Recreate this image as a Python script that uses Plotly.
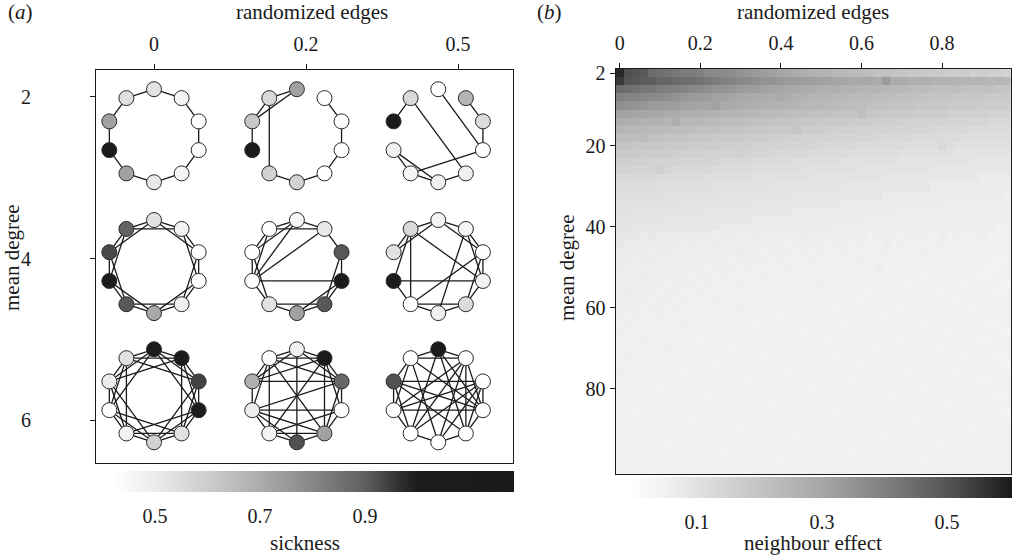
import math
import plotly.graph_objects as go

FONT = "Liberation Serif"
INK = "#1a1a1a"

# ---------------- Panel (a): small-world networks ----------------
RAND_TICKS_A = ["0", "0.2", "0.5"]
DEG_TICKS_A = ["2", "4", "6"]

# node index k: 0 = top, then clockwise
SICK_D2_R0 = [0.53, 0.46, 0.42, 0.42, 0.46, 0.51, 0.73, 1.05, 0.73, 0.54]
EDGES_D2_R0 = [(0, 1), (1, 2), (2, 3), (3, 4), (4, 5), (5, 6), (6, 7), (7, 8), (8, 9), (9, 0)]

SICK_D2_R02 = [0.73, 0.42, 0.42, 0.42, 0.42, 0.585, 0.585, 1.05, 0.615, 0.56]
EDGES_D2_R02 = [(7, 8), (8, 9), (8, 0), (9, 0), (9, 6), (6, 5), (5, 4), (4, 3), (3, 2), (2, 1)]

SICK_D2_R05 = [0.42, 0.67, 0.55, 0.42, 0.48, 0.48, 0.46, 0.48, 1.05, 0.56]
EDGES_D2_R05 = [(8, 9), (9, 4), (0, 3), (1, 2), (2, 3), (6, 3), (7, 6), (7, 5), (6, 5), (5, 4)]

SICK_D4_R0 = [0.53, 0.47, 0.42, 0.42, 0.48, 0.71, 0.91, 1.05, 0.93, 0.89]
EDGES_D4_R0 = [(0, 1), (1, 2), (2, 3), (3, 4), (4, 5), (5, 6), (6, 7), (7, 8), (8, 9), (9, 0),
               (0, 2), (1, 3), (2, 4), (3, 5), (4, 6), (5, 7), (6, 8), (7, 9), (8, 0), (9, 1)]

SICK_D4_R02 = [0.45, 0.51, 0.91, 1.05, 0.91, 0.73, 0.53, 0.42, 0.42, 0.42]
EDGES_D4_R02 = [(0, 1), (1, 2), (2, 3), (3, 4), (4, 5), (5, 6), (6, 7), (7, 8), (8, 9), (9, 0),
                (9, 1), (8, 0), (2, 4), (3, 5), (4, 6), (7, 9), (7, 0), (7, 1), (7, 3), (6, 8)]

SICK_D4_R05 = [0.46, 0.46, 0.42, 0.47, 0.55, 0.48, 0.42, 1.05, 0.53, 0.56]
EDGES_D4_R05 = [(0, 1), (1, 2), (2, 3), (3, 4), (4, 5), (5, 6), (8, 9), (9, 0), (0, 2), (1, 3),
                (2, 4), (4, 6), (8, 0), (9, 6), (9, 3), (7, 9), (7, 6), (2, 6), (1, 5), (3, 7)]

SICK_D6_R0 = [1.05, 1.03, 0.94, 1.03, 0.53, 0.585, 0.47, 0.42, 0.49, 0.53]
EDGES_D6_R0 = [(0, 1), (1, 2), (2, 3), (3, 4), (4, 5), (5, 6), (6, 7), (7, 8), (8, 9), (9, 0),
               (0, 2), (1, 3), (2, 4), (3, 5), (4, 6), (5, 7), (6, 8), (7, 9), (8, 0), (9, 1),
               (0, 3), (1, 4), (2, 5), (3, 6), (4, 7), (5, 8), (6, 9), (7, 0), (8, 1), (9, 2)]

SICK_D6_R02 = [0.48, 1.05, 0.88, 0.42, 0.73, 0.92, 0.47, 0.49, 0.69, 0.42]
EDGES_D6_R02 = [(0, 1), (1, 2), (2, 3), (3, 4), (4, 5), (5, 6), (6, 7), (7, 8), (8, 9), (9, 0),
                (0, 2), (1, 3), (2, 4), (3, 7), (4, 6), (5, 7), (6, 1), (7, 9), (8, 0), (9, 1),
                (0, 5), (1, 4), (2, 8), (3, 6), (4, 7), (9, 4), (6, 9), (7, 2), (8, 1), (9, 2)]

SICK_D6_R05 = [1.05, 0.42, 0.42, 0.42, 0.42, 0.42, 0.42, 0.42, 0.92, 0.42]
EDGES_D6_R05 = [(0, 1), (0, 9), (9, 1), (8, 2), (7, 3), (1, 4), (8, 7), (2, 3), (3, 4), (4, 5),
                (5, 6), (6, 7), (8, 9), (0, 4), (0, 6), (9, 3), (9, 5), (8, 3), (8, 4), (7, 2),
                (7, 1), (6, 1), (6, 2), (5, 1), (5, 2), (7, 9), (4, 2), (3, 1), (6, 8), (0, 3)]

PANELS = [
    (0, 0, SICK_D2_R0, EDGES_D2_R0), (0, 1, SICK_D2_R02, EDGES_D2_R02), (0, 2, SICK_D2_R05, EDGES_D2_R05),
    (1, 0, SICK_D4_R0, EDGES_D4_R0), (1, 1, SICK_D4_R02, EDGES_D4_R02), (1, 2, SICK_D4_R05, EDGES_D4_R05),
    (2, 0, SICK_D6_R0, EDGES_D6_R0), (2, 1, SICK_D6_R02, EDGES_D6_R02), (2, 2, SICK_D6_R05, EDGES_D6_R05),
]

SICK_TICKS = [0.5, 0.7, 0.9]
SICK_TICK_LABELS = ["0.5", "0.7", "0.9"]

# ---------------- Panel (b): neighbour effect heat map ----------------
RAND_B = [0.00, 0.02, 0.04, 0.06, 0.08, 0.10, 0.12, 0.14, 0.16, 0.18,
          0.20, 0.22, 0.24, 0.26, 0.28, 0.30, 0.32, 0.34, 0.36, 0.38,
          0.40, 0.42, 0.44, 0.46, 0.48, 0.50, 0.52, 0.54, 0.56, 0.58,
          0.60, 0.62, 0.64, 0.66, 0.68, 0.70, 0.72, 0.74, 0.76, 0.78,
          0.80, 0.82, 0.84, 0.86, 0.88, 0.90, 0.92, 0.94, 0.96]
DEG_B = [2, 4, 6, 8, 10, 12, 14, 16, 18, 20, 22, 24, 26, 28, 30, 32, 34, 36, 38, 40,
         42, 44, 46, 48, 50, 52, 54, 56, 58, 60, 62, 64, 66, 68, 70, 72, 74, 76, 78, 80,
         82, 84, 86, 88, 90, 92, 94, 96, 98, 100]
RAND_TICKS_B = [0, 0.2, 0.4, 0.6, 0.8]
RAND_TICK_LABELS_B = ["0", "0.2", "0.4", "0.6", "0.8"]
DEG_TICKS_B = [2, 20, 40, 60, 80]

# neighbour effect, in hundredths (rows = mean degree, columns = randomized edges)
NEIGH_PCT = [
    [58, 51, 50, 49, 45, 44, 43, 42, 41, 41, 40, 38, 37, 37, 36, 35, 34, 33, 32, 31, 30, 29, 28, 27, 26, 26, 25, 24, 24, 23, 23, 22, 21, 21, 20, 20, 19, 19, 18, 18, 18, 17, 17, 18, 16, 17, 16, 16, 15],
    [55, 50, 49, 48, 48, 46, 46, 45, 44, 44, 43, 42, 41, 40, 39, 38, 37, 36, 35, 35, 34, 33, 33, 32, 32, 31, 31, 30, 30, 29, 29, 29, 28, 33, 28, 28, 27, 27, 27, 26, 26, 26, 25, 25, 25, 25, 24, 25, 24],
    [45, 44, 43, 42, 42, 41, 40, 40, 39, 38, 37, 36, 35, 35, 34, 33, 32, 32, 31, 30, 30, 29, 29, 28, 28, 27, 27, 27, 26, 26, 25, 25, 25, 24, 24, 24, 23, 23, 23, 22, 22, 22, 22, 21, 21, 21, 21, 20, 20],
    [40, 39, 39, 38, 37, 37, 36, 35, 34, 33, 33, 32, 31, 31, 30, 29, 29, 28, 28, 27, 29, 27, 26, 26, 25, 25, 25, 24, 24, 23, 23, 23, 22, 22, 22, 21, 21, 21, 20, 20, 20, 20, 19, 19, 19, 19, 18, 18, 18],
    [36, 35, 35, 34, 33, 33, 32, 32, 31, 31, 30, 30, 31, 29, 28, 28, 27, 27, 26, 26, 26, 25, 25, 24, 24, 24, 23, 23, 22, 22, 22, 21, 21, 21, 20, 20, 20, 19, 19, 19, 19, 18, 18, 18, 18, 17, 17, 17, 17],
    [31, 31, 30, 30, 29, 29, 28, 28, 27, 27, 27, 26, 26, 25, 25, 25, 24, 24, 23, 23, 23, 22, 22, 22, 21, 21, 21, 20, 20, 20, 22, 19, 19, 18, 18, 18, 18, 17, 17, 17, 17, 16, 16, 16, 16, 16, 15, 15, 15],
    [28, 27, 27, 26, 26, 26, 25, 27, 24, 24, 24, 23, 23, 22, 22, 22, 21, 21, 21, 20, 20, 20, 19, 19, 19, 18, 18, 18, 18, 17, 17, 17, 16, 16, 16, 16, 15, 15, 15, 15, 15, 14, 14, 14, 14, 14, 13, 13, 13],
    [25, 24, 24, 24, 23, 23, 23, 22, 22, 22, 21, 21, 21, 20, 20, 20, 19, 19, 19, 18, 18, 18, 20, 17, 17, 17, 16, 16, 16, 16, 15, 15, 15, 15, 14, 14, 14, 14, 14, 13, 13, 13, 13, 13, 12, 12, 12, 12, 12],
    [22, 22, 22, 23, 21, 21, 20, 20, 20, 19, 19, 19, 18, 18, 18, 18, 17, 17, 17, 16, 16, 16, 16, 15, 15, 15, 15, 14, 14, 14, 14, 14, 13, 13, 13, 13, 13, 12, 12, 12, 12, 12, 12, 11, 11, 11, 11, 11, 11],
    [20, 20, 19, 19, 19, 19, 18, 18, 18, 17, 17, 17, 17, 16, 16, 16, 16, 15, 15, 15, 15, 14, 14, 14, 14, 13, 13, 13, 13, 13, 12, 12, 12, 12, 12, 12, 11, 11, 11, 11, 13, 11, 10, 10, 10, 10, 10, 10, 10],
    [18, 18, 18, 17, 17, 17, 17, 16, 16, 16, 16, 15, 15, 15, 15, 16, 14, 14, 14, 13, 13, 13, 13, 13, 12, 12, 12, 12, 12, 11, 11, 11, 11, 11, 11, 10, 10, 10, 10, 10, 10, 10, 9, 9, 9, 9, 9, 9, 9],
    [16, 16, 16, 16, 15, 15, 15, 15, 14, 14, 14, 14, 14, 13, 13, 13, 13, 12, 12, 12, 12, 12, 11, 11, 11, 11, 11, 11, 10, 10, 10, 10, 10, 10, 10, 9, 9, 9, 9, 9, 9, 9, 9, 9, 8, 8, 8, 8, 8],
    [15, 15, 14, 14, 14, 16, 14, 13, 13, 13, 13, 13, 12, 12, 12, 12, 12, 11, 11, 11, 11, 11, 11, 10, 10, 10, 10, 10, 10, 10, 9, 9, 9, 9, 9, 9, 9, 9, 9, 8, 8, 8, 8, 8, 8, 8, 8, 8, 8],
    [13, 13, 13, 13, 13, 12, 12, 12, 12, 12, 12, 11, 11, 11, 11, 11, 11, 10, 10, 10, 10, 10, 10, 10, 9, 9, 9, 9, 9, 9, 9, 9, 9, 8, 8, 8, 8, 8, 8, 8, 8, 8, 8, 8, 8, 7, 7, 7, 7],
    [12, 12, 12, 12, 12, 11, 11, 11, 11, 11, 11, 11, 10, 10, 10, 10, 10, 10, 10, 9, 9, 9, 9, 9, 9, 9, 9, 9, 8, 8, 8, 8, 8, 8, 8, 8, 8, 8, 8, 7, 7, 7, 7, 7, 7, 7, 7, 7, 7],
    [11, 11, 11, 11, 11, 11, 10, 10, 10, 10, 10, 10, 10, 9, 9, 9, 9, 9, 9, 9, 9, 9, 8, 8, 8, 8, 8, 8, 8, 8, 8, 8, 8, 7, 7, 7, 7, 7, 7, 7, 7, 7, 7, 7, 7, 7, 7, 7, 6],
    [10, 10, 10, 10, 10, 10, 10, 10, 9, 9, 9, 9, 9, 9, 9, 9, 9, 8, 8, 8, 8, 8, 8, 8, 8, 8, 8, 8, 7, 7, 7, 7, 7, 7, 7, 7, 7, 7, 7, 7, 7, 6, 6, 6, 6, 6, 6, 6, 6],
    [10, 10, 9, 9, 9, 9, 9, 9, 9, 9, 9, 8, 8, 8, 8, 8, 8, 8, 8, 8, 8, 8, 7, 7, 7, 7, 7, 7, 7, 7, 7, 7, 7, 7, 7, 6, 6, 6, 6, 6, 6, 6, 6, 6, 6, 6, 6, 6, 6],
    [9, 9, 9, 9, 9, 9, 8, 8, 8, 8, 8, 8, 8, 8, 8, 8, 8, 7, 7, 7, 7, 7, 7, 7, 7, 7, 7, 7, 7, 7, 7, 6, 6, 6, 6, 6, 6, 6, 6, 6, 6, 6, 6, 6, 6, 6, 6, 6, 6],
    [9, 9, 8, 8, 8, 8, 8, 8, 8, 8, 8, 8, 8, 7, 7, 7, 7, 7, 7, 7, 7, 7, 7, 7, 7, 7, 7, 6, 6, 6, 6, 6, 6, 6, 6, 6, 6, 6, 6, 6, 6, 6, 6, 6, 6, 6, 6, 5, 5],
    [8, 8, 8, 7, 8, 7, 7, 7, 7, 7, 7, 7, 6, 7, 7, 6, 6, 7, 6, 6, 6, 6, 6, 7, 6, 6, 6, 6, 6, 6, 6, 5, 6, 6, 6, 5, 6, 6, 6, 5, 6, 5, 6, 5, 5, 6, 5, 5, 5],
    [8, 7, 7, 7, 7, 7, 7, 7, 6, 7, 6, 6, 7, 6, 6, 6, 6, 6, 6, 6, 6, 5, 6, 6, 6, 6, 5, 6, 6, 5, 6, 5, 5, 6, 5, 6, 5, 5, 5, 5, 6, 5, 5, 5, 5, 5, 5, 5, 5],
    [7, 7, 7, 7, 6, 7, 7, 6, 6, 6, 6, 6, 6, 6, 6, 7, 6, 6, 5, 6, 6, 6, 5, 6, 5, 6, 5, 5, 6, 5, 5, 5, 5, 6, 5, 5, 5, 5, 6, 5, 5, 5, 5, 5, 5, 5, 5, 5, 5],
    [7, 7, 6, 7, 7, 6, 6, 6, 6, 6, 6, 6, 6, 6, 5, 6, 6, 6, 6, 5, 6, 5, 5, 5, 6, 5, 5, 5, 5, 5, 6, 5, 5, 5, 5, 5, 5, 5, 5, 5, 5, 5, 5, 5, 5, 5, 5, 4, 5],
    [7, 6, 6, 6, 6, 6, 6, 6, 6, 6, 6, 5, 6, 6, 6, 5, 6, 5, 5, 5, 5, 6, 5, 5, 5, 5, 5, 5, 5, 5, 5, 5, 6, 5, 5, 5, 5, 5, 5, 5, 5, 5, 5, 5, 5, 5, 4, 5, 5],
    [6, 6, 6, 7, 6, 6, 6, 6, 6, 5, 6, 6, 5, 6, 5, 5, 5, 5, 6, 5, 5, 5, 5, 5, 5, 5, 5, 5, 5, 5, 5, 5, 5, 5, 5, 5, 5, 5, 4, 5, 5, 5, 5, 5, 5, 4, 5, 5, 5],
    [6, 6, 6, 6, 6, 6, 5, 6, 6, 6, 5, 6, 5, 5, 5, 6, 5, 5, 5, 5, 5, 5, 5, 5, 5, 6, 5, 5, 5, 5, 5, 5, 5, 5, 5, 5, 4, 5, 5, 5, 5, 5, 5, 4, 5, 5, 5, 5, 4],
    [6, 7, 6, 6, 6, 5, 6, 6, 5, 5, 6, 5, 5, 5, 5, 5, 5, 5, 5, 5, 5, 5, 5, 5, 5, 5, 5, 5, 5, 5, 5, 4, 5, 5, 5, 5, 5, 5, 5, 5, 4, 5, 5, 5, 5, 5, 5, 4, 5],
    [6, 6, 6, 6, 5, 6, 6, 5, 6, 5, 5, 5, 6, 5, 5, 5, 5, 5, 5, 5, 5, 5, 5, 5, 5, 5, 5, 5, 5, 5, 4, 5, 5, 5, 5, 5, 5, 5, 5, 5, 5, 5, 4, 5, 5, 5, 5, 5, 5],
    [6, 6, 6, 5, 6, 6, 5, 6, 5, 5, 5, 5, 5, 5, 5, 6, 5, 5, 5, 5, 5, 5, 5, 5, 5, 5, 5, 4, 5, 5, 5, 5, 5, 5, 5, 4, 5, 5, 5, 5, 5, 5, 5, 5, 4, 5, 5, 5, 5],
    [6, 5, 6, 5, 5, 6, 5, 5, 5, 5, 5, 5, 5, 5, 5, 5, 5, 5, 5, 5, 4, 5, 5, 5, 5, 5, 5, 5, 5, 5, 5, 5, 5, 4, 5, 5, 5, 5, 5, 5, 5, 5, 5, 5, 5, 5, 5, 5, 5],
    [5, 6, 5, 5, 5, 5, 5, 5, 6, 5, 5, 5, 5, 5, 5, 5, 5, 4, 5, 5, 5, 5, 5, 5, 5, 5, 5, 5, 4, 5, 5, 5, 5, 5, 5, 5, 5, 5, 4, 5, 5, 5, 5, 5, 5, 5, 4, 5, 5],
    [6, 5, 5, 5, 5, 5, 5, 5, 5, 5, 5, 5, 5, 5, 5, 5, 5, 5, 5, 5, 5, 5, 5, 4, 5, 5, 5, 5, 5, 5, 5, 5, 5, 5, 5, 5, 5, 5, 5, 5, 5, 4, 5, 5, 5, 5, 5, 5, 4],
    [5, 5, 5, 6, 5, 5, 5, 5, 5, 5, 4, 5, 5, 5, 5, 5, 5, 5, 5, 5, 5, 5, 5, 5, 5, 5, 4, 5, 5, 5, 5, 5, 5, 5, 5, 4, 5, 5, 5, 5, 5, 5, 5, 5, 5, 4, 5, 5, 5],
    [5, 5, 5, 5, 5, 5, 6, 5, 5, 5, 5, 5, 5, 5, 4, 5, 5, 5, 5, 5, 5, 5, 5, 5, 5, 5, 5, 5, 5, 5, 5, 5, 4, 5, 5, 5, 5, 5, 5, 5, 4, 5, 5, 5, 5, 5, 5, 5, 5],
    [5, 6, 5, 5, 5, 5, 5, 5, 5, 5, 5, 5, 5, 5, 5, 5, 5, 5, 4, 5, 5, 5, 5, 5, 5, 5, 5, 4, 5, 5, 5, 5, 5, 5, 5, 5, 5, 5, 5, 5, 5, 5, 5, 4, 5, 5, 5, 4, 5],
    [5, 5, 5, 5, 5, 5, 5, 5, 5, 5, 5, 5, 4, 5, 5, 5, 5, 5, 5, 5, 5, 5, 5, 5, 5, 5, 5, 5, 5, 5, 4, 5, 5, 5, 5, 5, 5, 5, 5, 5, 5, 5, 5, 5, 5, 5, 5, 5, 4],
    [6, 5, 5, 5, 5, 5, 5, 5, 4, 5, 5, 5, 5, 5, 5, 5, 5, 5, 5, 5, 5, 4, 5, 5, 5, 5, 5, 5, 5, 5, 5, 5, 5, 5, 5, 5, 4, 5, 5, 5, 5, 5, 4, 5, 5, 5, 5, 5, 5],
    [5, 5, 5, 5, 5, 5, 5, 5, 5, 5, 5, 5, 5, 5, 5, 5, 4, 5, 5, 5, 5, 5, 5, 5, 5, 5, 5, 5, 5, 4, 5, 5, 5, 5, 5, 5, 5, 5, 5, 5, 5, 5, 5, 5, 5, 4, 5, 5, 5],
    [5, 5, 5, 5, 5, 4, 5, 5, 5, 5, 5, 5, 5, 5, 5, 5, 5, 5, 5, 5, 5, 5, 5, 5, 4, 5, 5, 5, 5, 5, 5, 5, 5, 5, 5, 5, 5, 5, 4, 5, 5, 5, 5, 5, 5, 5, 5, 5, 5],
    [5, 5, 5, 5, 5, 5, 5, 5, 5, 5, 5, 4, 5, 5, 5, 5, 5, 5, 5, 5, 5, 5, 5, 5, 5, 5, 5, 5, 5, 5, 5, 5, 5, 5, 4, 5, 5, 5, 5, 5, 5, 5, 5, 5, 5, 5, 5, 4, 5],
    [5, 5, 5, 5, 5, 5, 5, 5, 5, 5, 5, 5, 5, 5, 5, 5, 5, 5, 5, 4, 5, 5, 5, 5, 5, 5, 5, 5, 5, 5, 5, 5, 5, 5, 5, 5, 5, 5, 5, 5, 5, 4, 5, 5, 5, 5, 5, 5, 5],
    [5, 5, 4, 5, 5, 5, 5, 5, 5, 5, 5, 5, 5, 5, 5, 5, 5, 5, 5, 5, 5, 5, 5, 5, 5, 5, 5, 4, 5, 5, 5, 5, 5, 5, 5, 5, 5, 5, 5, 5, 5, 5, 5, 5, 5, 5, 5, 5, 4],
    [5, 5, 5, 5, 5, 5, 5, 5, 5, 4, 5, 5, 5, 5, 5, 5, 5, 5, 5, 5, 5, 5, 5, 5, 5, 5, 5, 5, 5, 5, 5, 5, 5, 5, 5, 5, 5, 4, 5, 5, 5, 5, 5, 5, 5, 5, 5, 5, 5],
    [5, 5, 5, 5, 5, 5, 5, 5, 5, 5, 5, 5, 5, 5, 5, 4, 5, 5, 5, 5, 5, 5, 5, 5, 5, 5, 5, 5, 5, 5, 5, 5, 5, 5, 5, 5, 5, 5, 5, 5, 5, 5, 5, 5, 4, 5, 5, 5, 5],
    [5, 5, 5, 5, 5, 5, 5, 5, 5, 5, 5, 5, 5, 5, 5, 5, 5, 5, 5, 5, 5, 5, 4, 5, 5, 5, 5, 5, 5, 5, 5, 5, 5, 4, 5, 5, 5, 5, 5, 5, 5, 5, 5, 5, 5, 5, 5, 5, 5],
    [5, 5, 5, 5, 5, 5, 4, 5, 5, 5, 5, 5, 5, 5, 5, 5, 5, 5, 5, 5, 5, 5, 5, 5, 5, 5, 5, 5, 5, 5, 5, 5, 5, 5, 5, 5, 5, 5, 5, 5, 4, 5, 5, 5, 5, 5, 5, 5, 5],
    [5, 5, 5, 5, 5, 5, 5, 5, 5, 5, 5, 5, 5, 4, 5, 5, 5, 5, 5, 5, 5, 5, 5, 5, 5, 5, 5, 5, 5, 4, 5, 5, 5, 5, 5, 5, 5, 5, 5, 5, 5, 5, 5, 5, 5, 5, 5, 5, 5],
    [5, 5, 5, 5, 5, 5, 5, 5, 5, 5, 5, 5, 5, 5, 5, 5, 5, 5, 5, 5, 4, 5, 5, 5, 5, 5, 5, 5, 5, 5, 5, 5, 5, 5, 5, 5, 5, 5, 4, 5, 5, 5, 5, 5, 5, 5, 5, 5, 5],
    [5, 5, 5, 5, 5, 5, 5, 5, 5, 5, 5, 5, 5, 5, 5, 5, 5, 5, 5, 5, 5, 5, 5, 5, 5, 5, 5, 5, 5, 5, 5, 5, 5, 5, 5, 5, 5, 5, 5, 5, 5, 5, 5, 5, 5, 5, 5, 5, 5],
]
NEIGH_TICKS = [0.1, 0.3, 0.5]
NEIGH_TICK_LABELS = ["0.1", "0.3", "0.5"]

# ---------------- styling / layout constants ----------------
W, H = 1012, 556
RING_CX = [0.0, 0.94, 1.87]     # ring centres, panel (a) x units
RING_CY = [0.24, 1.05, 1.85]    # ring centres, panel (a) y units
RX, RY = 0.309, 0.288

SICK_MIN, SICK_MAX = 0.42, 1.184
NEIGH_MIN, NEIGH_MAX = -0.012, 0.604
SICK_STOPS = [(0.42, "#ffffff"), (0.50, "#ebebeb"), (0.60, "#cdcdcd"), (0.70, "#acacac"),
              (0.80, "#878787"), (0.90, "#5f5f5f"), (0.97, "#2d2d2d"), (1.00, "#1c1c1c"),
              (1.184, "#1a1a1a")]
NEIGH_STOPS = [(-0.012, "#ffffff"), (0.02, "#f8f8f8"), (0.05, "#f1f1f1"), (0.10, "#e1e1e1"),
               (0.20, "#c4c4c4"), (0.30, "#a6a6a6"), (0.40, "#808080"), (0.50, "#555555"),
               (0.604, "#1a1a1a")]


def scale(stops, lo, hi):
    return [[(v - lo) / (hi - lo), c] for v, c in stops]


def node_xy(row, col, k):
    ang = math.radians(90 - 36 * k)
    return RING_CX[col] + RX * math.cos(ang), RING_CY[row] - RY * math.sin(ang)


fig = go.Figure()

for row, col, sick, edges in PANELS:
    ex, ey = [], []
    for a, b in edges:
        xa, ya = node_xy(row, col, a)
        xb, yb = node_xy(row, col, b)
        ex += [xa, xb, None]
        ey += [ya, yb, None]
    fig.add_trace(go.Scatter(x=ex, y=ey, mode="lines", line=dict(color=INK, width=1.3),
                             hoverinfo="skip", xaxis="x", yaxis="y"))
    pts = [node_xy(row, col, k) for k in range(len(sick))]
    fig.add_trace(go.Scatter(
        x=[p[0] for p in pts], y=[p[1] for p in pts], mode="markers",
        marker=dict(size=15, color=sick, coloraxis="coloraxis",
                    line=dict(color="#2a2a2a", width=1)),
        xaxis="x", yaxis="y"))

fig.add_trace(go.Heatmap(
    x=RAND_B, y=DEG_B, z=[[v / 100 for v in r] for r in NEIGH_PCT],
    coloraxis="coloraxis2", xaxis="x2", yaxis="y2"))

axis_style = dict(showgrid=False, zeroline=False, showline=True, linecolor=INK, linewidth=1.2,
                  mirror=True, ticks="outside", ticklen=5, tickwidth=1.2, tickcolor=INK,
                  automargin=False, tickfont=dict(family=FONT, size=20, color=INK))

cb_common = dict(orientation="h", xanchor="left", yanchor="top", lenmode="fraction",
                 thickness=21, thicknessmode="pixels", xpad=0, ypad=0, outlinewidth=0,
                 ticks="outside", ticklen=7, tickcolor="rgba(0,0,0,0)",
                 tickfont=dict(family=FONT, size=20, color=INK))

fig.update_layout(
    width=W, height=H, margin=dict(l=0, r=0, t=0, b=0, autoexpand=False),
    paper_bgcolor="white", plot_bgcolor="white", showlegend=False,
    font=dict(family=FONT, size=20, color=INK),
    xaxis=dict(domain=[96 / W, 513 / W], range=[-0.3816, 2.3618], side="top",
               tickvals=[0, 1, 2], ticktext=RAND_TICKS_A, anchor="y",
               ticklabelstandoff=5, **axis_style),
    yaxis=dict(domain=[1 - 463 / H, 1 - 70 / H], range=[2.266, -0.167],
               tickvals=[0, 1, 2], ticktext=DEG_TICKS_A, anchor="x",
               ticklabelstandoff=55, **axis_style),
    xaxis2=dict(domain=[615.7 / W, 1011 / W], range=[-0.01, 0.971], side="top",
                tickvals=RAND_TICKS_B, ticktext=RAND_TICK_LABELS_B, anchor="y2",
                ticklabelstandoff=5, **axis_style),
    yaxis2=dict(domain=[1 - 474 / H, 1 - 69 / H], range=[101, 1],
                tickvals=DEG_TICKS_B, anchor="x2", **axis_style),
    coloraxis=dict(
        cmin=SICK_MIN, cmax=SICK_MAX, colorscale=scale(SICK_STOPS, SICK_MIN, SICK_MAX),
        colorbar=dict(x=113 / W, y=1 - 471 / H, len=401 / W,
                      tickvals=SICK_TICKS, ticktext=SICK_TICK_LABELS, **cb_common)),
    coloraxis2=dict(
        cmin=NEIGH_MIN, cmax=NEIGH_MAX, colorscale=scale(NEIGH_STOPS, NEIGH_MIN, NEIGH_MAX),
        colorbar=dict(x=627 / W, y=1 - 477 / H, len=385 / W,
                      tickvals=NEIGH_TICKS, ticktext=NEIGH_TICK_LABELS, **cb_common)),
)

title_font = dict(family=FONT, size=21, color=INK)
for txt, px, py, ang, ya in [
    ("(<i>a</i>)", 20, 12, 0, "middle"), ("randomized edges", 312, 12, 0, "middle"),
    ("(<i>b</i>)", 549, 12, 0, "middle"), ("randomized edges", 813, 12, 0, "middle"),
    ("mean degree", 12, 258, -90, "middle"), ("mean degree", 567, 268, -90, "middle"),
    ("sickness", 305, 556, 0, "bottom"), ("neighbour effect", 813, 556, 0, "bottom"),
]:
    fig.add_annotation(text=txt, x=px / W, y=1 - py / H, xref="paper", yref="paper",
                       showarrow=False, xanchor="center", yanchor=ya, borderpad=0,
                       textangle=ang, font=title_font)

fig.write_html(
    "out.html",
    config={"displayModeBar": False},
    post_script="document.body.style.margin='0';document.body.style.overflow='hidden';",
)
